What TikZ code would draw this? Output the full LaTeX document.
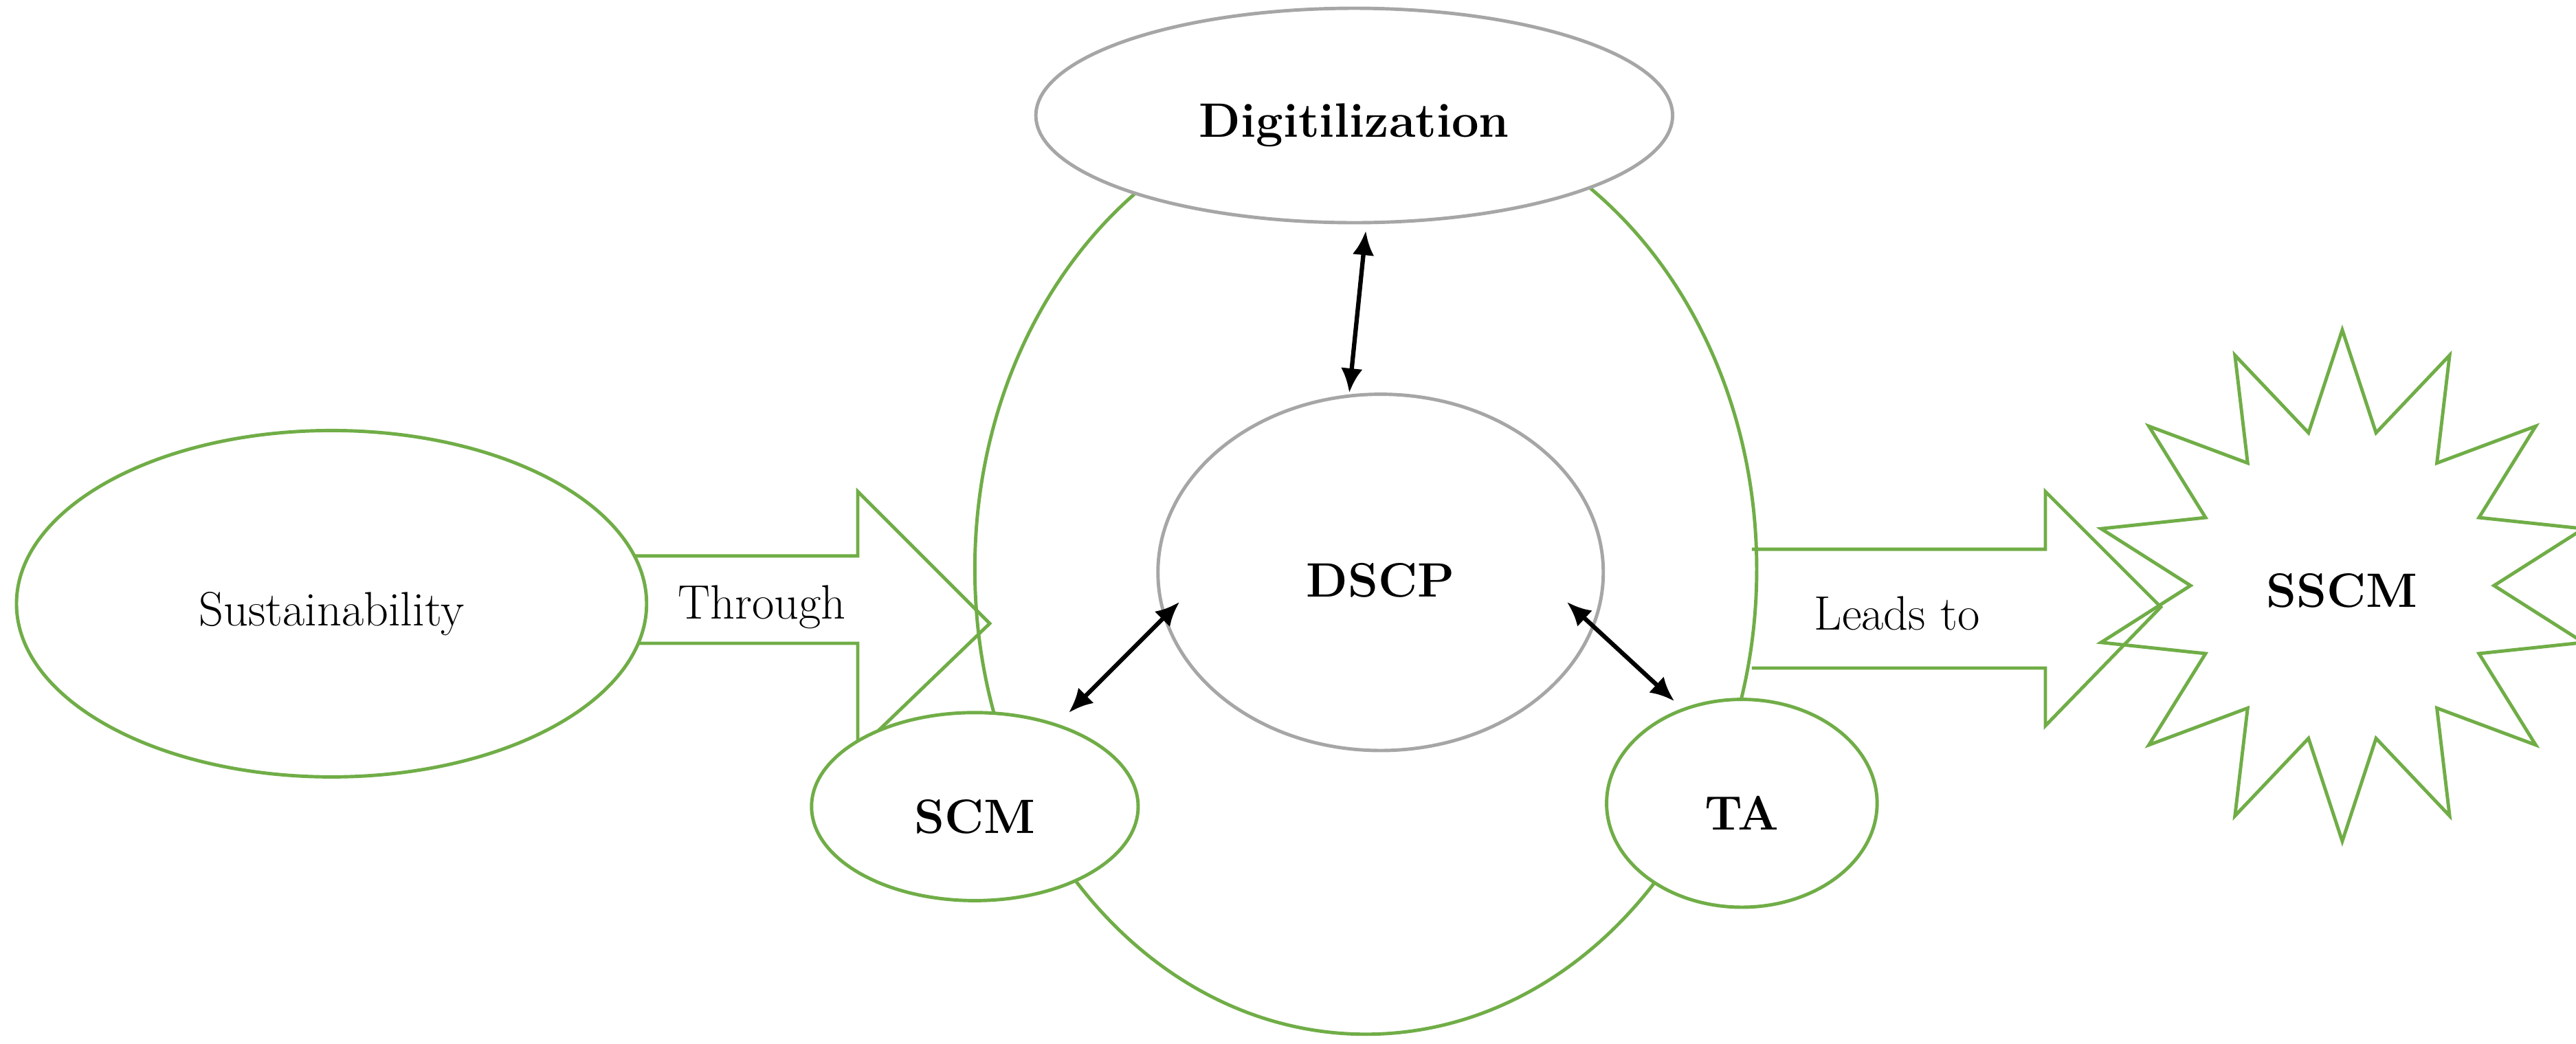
\documentclass[tikz,border=0pt]{standalone}
\usetikzlibrary{arrows.meta}
\definecolor{gr}{HTML}{70AD47}
\definecolor{gy}{HTML}{A6A6A6}
\begin{document}
\begin{tikzpicture}[x=0.024cm,y=-0.024cm,
  gel/.style={draw=gr,line width=1.4pt,fill=white},
  gln/.style={draw=gr,line width=1.4pt},
  yel/.style={draw=gy,line width=1.4pt,fill=white},
  lab/.style={font=\fontsize{20}{24}\selectfont},
  blab/.style={font=\fontsize{20}{24}\selectfont\bfseries},
  dbl/.style={line width=1.8pt,{Latex[length=10pt,width=9pt]}-{Latex[length=10pt,width=9pt]}}]
\useasboundingbox (0,0) rectangle (1561.7,632.9);
\draw[gln] (828,345) ellipse [x radius=237,y radius=282];
% Through arrow
\draw[gln,line join=miter] (378,337) -- (520,337) -- (520,298) -- (600,378) -- (520,455) -- (520,390) -- (378,390);
\node[lab] (thr) at (462,368) {Through};
\draw[gel] (201,366) ellipse [x radius=191,y radius=105];
\node[lab] (sus) at (201,372) {Sustainability};
% star
\draw[gln] plot[samples=29,domain=0:28,variable=\i]
  ({1420+(mod(\i,2)==0 ? 150 : 92)*cos(90+\i*360/28)},{355-(mod(\i,2)==0 ? 155 : 95)*sin(90+\i*360/28)}) -- cycle;
\node[blab] (sscm) at (1420,358) {SSCM};
% Leads to arrow
\draw[gln] (1062,333) -- (1240,333) -- (1240,298) -- (1310,368) -- (1240,440) -- (1240,405) -- (1062,405);
\node[lab] (lt) at (1150,372) {Leads to};
\draw[yel] (821,70) ellipse [x radius=193,y radius=65];
\node[blab] (dig) at (821,76) {Digitilization};
\draw[yel] (837,347) ellipse [x radius=135,y radius=108];
\node[blab] (dscp) at (837,352) {DSCP};
\draw[gel] (591,489) ellipse [x radius=99,y radius=57];
\node[blab] (scm) at (591,495) {SCM};
\draw[gel] (1056,487) ellipse [x radius=82,y radius=63];
\node[blab] (ta) at (1056,493) {TA};
\coordinate (d1) at (828,140); \coordinate (d2) at (818,238);
\coordinate (s1) at (715,365); \coordinate (s2) at (648,432);
\coordinate (t1) at (950,365); \coordinate (t2) at (1015,425);
\draw[dbl] (d1) -- (d2);
\draw[dbl] (s1) -- (s2);
\draw[dbl] (t1) -- (t2);
\end{tikzpicture}
\end{document}
